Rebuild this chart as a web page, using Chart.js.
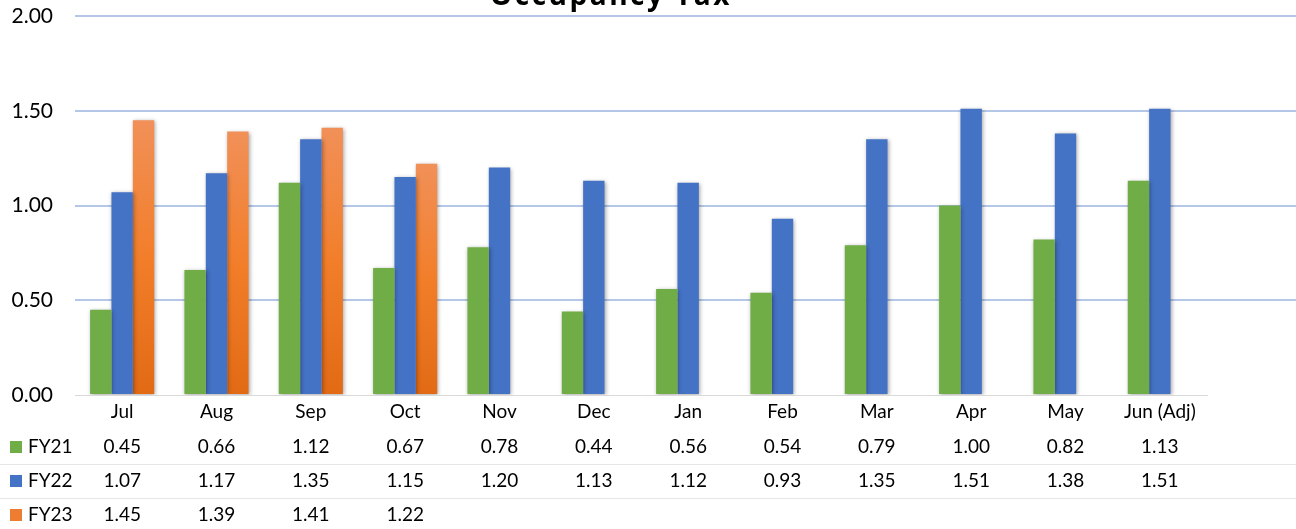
<!DOCTYPE html>
<html>
<head>
<meta charset="utf-8">
<script src="https://cdn.jsdelivr.net/npm/chart.js@4.4.0/dist/chart.umd.min.js"></script>
<style>
  html, body { margin: 0; padding: 0; background: #fff; }
  #wrap { width: 1296px; height: 529px; position: relative; }
</style>
</head>
<body>
<div id="wrap"><canvas id="taxChart"></canvas></div>
<script>
const months = ["Jul", "Aug", "Sep", "Oct", "Nov", "Dec", "Jan", "Feb", "Mar", "Apr", "May", "Jun (Adj)"];
const fy21 = [0.45, 0.66, 1.12, 0.67, 0.78, 0.44, 0.56, 0.54, 0.79, 1.00, 0.82, 1.13];
const fy22 = [1.07, 1.17, 1.35, 1.15, 1.20, 1.13, 1.12, 0.93, 1.35, 1.51, 1.38, 1.51];
const fy23 = [1.45, 1.39, 1.41, 1.22, null, null, null, null, null, null, null, null];
const seriesNames = ["FY21", "FY22", "FY23"];
const yTicks = [0, 0.5, 1, 1.5, 2];

const FONT = "Lato, 'Open Sans', sans-serif";
const gridColor = "#b4c7e7";

// orange bars get a light-to-dark vertical gradient, one per bar
function orangeFill(ctx) {
  const chart = ctx.chart;
  const v = ctx.raw;
  if (v == null || !chart.chartArea) return "#ed7d31";
  const y = chart.scales.y;
  const top = y.getPixelForValue(v), bot = y.getPixelForValue(0);
  const g = chart.ctx.createLinearGradient(0, top, 0, bot);
  g.addColorStop(0, "#f19058");
  g.addColorStop(0.5, "#f27e2a");
  g.addColorStop(1, "#e26a15");
  return g;
}

// title (mostly cropped off the top), grid lines stretched to the right edge, and the data table
const extras = {
  id: "extras",
  beforeDatasetsDraw(chart) {
    const ctx = chart.ctx, a = chart.chartArea, y = chart.scales.y;
    ctx.save();
    ctx.strokeStyle = gridColor;
    ctx.lineWidth = 2;
    yTicks.forEach(t => {
      if (t === 0) return;
      const py = Math.round(y.getPixelForValue(t));
      ctx.beginPath();
      ctx.moveTo(a.right, py);
      ctx.lineTo(chart.width, py);
      ctx.stroke();
    });
    ctx.restore();
    ctx.save();
    ctx.shadowColor = "rgba(0,0,0,0.35)";
    ctx.shadowBlur = 4;
    ctx.shadowOffsetX = 1;
    ctx.shadowOffsetY = 1;
  },
  afterDatasetsDraw(chart) {
    chart.ctx.restore();
  },
  afterDraw(chart) {
    const ctx = chart.ctx, x = chart.scales.x;
    ctx.save();
    // title
    ctx.font = "bold 28px 'Open Sans', sans-serif";
    ctx.fillStyle = "#000";
    ctx.textAlign = "center";
    ctx.textBaseline = "alphabetic";
    ctx.letterSpacing = "2.5px";
    ctx.fillText("Occupancy Tax", 611, 5);
    ctx.letterSpacing = "0px";

    // table separators
    ctx.strokeStyle = "#e6e6e6";
    ctx.lineWidth = 1;
    [464.5, 498.5].forEach(ly => {
      ctx.beginPath();
      ctx.moveTo(0, ly);
      ctx.lineTo(chart.width, ly);
      ctx.stroke();
    });

    const rows = [fy21, fy22, fy23];
    const rowY = [447, 481, 515];
    const keys = ["#70ad47", "#4472c4", "#ed7d31"];
    ctx.font = "19px " + FONT;
    ctx.textBaseline = "middle";
    rows.forEach((vals, r) => {
      ctx.fillStyle = keys[r];
      ctx.fillRect(10, rowY[r] - 6, 12, 12);
      ctx.fillStyle = "#000";
      ctx.textAlign = "left";
      ctx.fillText(seriesNames[r], 28, rowY[r]);
      ctx.textAlign = "center";
      vals.forEach((v, i) => {
        if (v == null) return;
        ctx.fillText(v.toFixed(2), x.getPixelForValue(i), rowY[r]);
      });
    });
    ctx.restore();
  }
};

new Chart(document.getElementById("taxChart"), {
  type: "bar",
  data: {
    labels: months,
    datasets: [
      { label: seriesNames[0], data: fy21, backgroundColor: "#70ad47" },
      { label: seriesNames[1], data: fy22, backgroundColor: "#4472c4" },
      { label: seriesNames[2], data: fy23, backgroundColor: orangeFill }
    ]
  },
  options: {
    responsive: true,
    maintainAspectRatio: false,
    animation: false,
    datasets: { bar: { categoryPercentage: 0.68, barPercentage: 1.0 } },
    layout: { padding: { top: 16, right: 89, left: 0, bottom: 0 } },
    plugins: { legend: { display: false }, title: { display: false }, tooltip: { enabled: false } },
    scales: {
      x: {
        grid: { display: false, drawTicks: false },
        border: { display: true, color: "#d9d9d9", width: 1 },
        ticks: { color: "#000", font: { family: FONT, size: 19 }, padding: 5, maxRotation: 0, autoSkip: false },
        afterFit(scale) { scale.height = 134; scale.paddingLeft = 0; scale.paddingRight = 0; }
      },
      y: {
        min: 0, max: 2,
        afterBuildTicks(scale) { scale.ticks = yTicks.map(v => ({ value: v })); },
        grid: { color: ctx => ctx.tick.value === 0 ? "rgba(0,0,0,0)" : gridColor, lineWidth: 2, drawTicks: false },
        border: { display: false },
        ticks: { color: "#000", font: { family: FONT, size: 21 }, padding: 22, callback: v => v.toFixed(2) },
        afterFit(scale) { scale.width = 75; scale.paddingTop = 0; scale.paddingBottom = 0; }
      }
    }
  },
  plugins: [extras]
});
</script>
</body>
</html>
